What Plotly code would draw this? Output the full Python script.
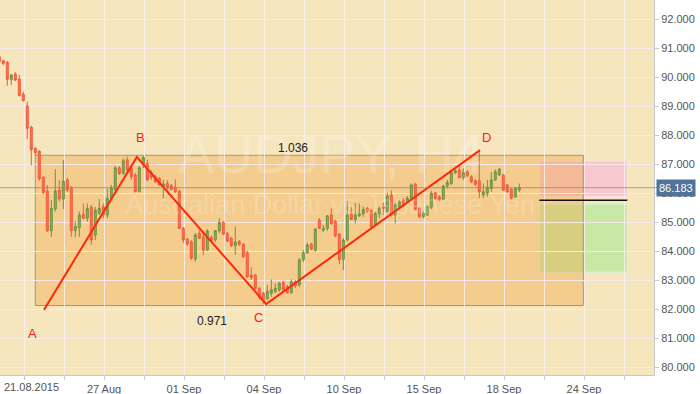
import plotly.graph_objects as go

# ---------------- data ----------------
candle_idx = list(range(-1, 130))
opens = [90.70, 90.56, 90.51, 89.91, 90.10, 89.93, 89.41, 89.00, 88.27, 87.54, 87.44, 86.54, 86.07, 84.70,
         85.45, 86.10, 85.79, 86.45, 86.16, 84.70, 84.80, 85.27, 85.13, 85.51, 84.55, 85.30, 85.53, 85.24,
         85.82, 86.10, 86.87, 86.68, 87.14, 86.87, 86.62, 86.04, 86.97, 87.02, 86.71, 86.56, 86.51, 86.22,
         86.33, 86.25, 86.18, 86.07, 84.78, 84.41, 84.32, 83.72, 84.61, 84.49, 84.03, 84.47, 84.38, 84.69,
         84.99, 84.61, 84.44, 84.18, 84.33, 84.23, 83.94, 83.17, 83.17, 82.71, 82.54, 82.36, 82.54, 82.60,
         82.66, 82.92, 82.77, 82.56, 82.94, 82.83, 83.69, 83.94, 84.23, 84.03, 85.07, 84.72, 84.78, 85.24,
         85.03, 84.59, 83.71, 84.38, 85.28, 85.09, 85.21, 85.28, 85.47, 85.39, 84.90, 85.28, 85.53, 85.36,
         85.93, 85.24, 85.53, 85.76, 85.70, 85.82, 86.31, 85.47, 85.18, 85.24, 85.51, 86.01, 85.87, 85.78,
         86.24, 86.33, 86.70, 86.79, 86.53, 86.73, 86.56, 86.42, 86.42, 85.93, 85.99, 86.16, 86.45, 86.62,
         86.62, 86.28, 86.13, 85.86, 86.10]
highs = [90.76, 90.60, 90.55, 90.09, 90.17, 90.07, 89.49, 89.15, 88.32, 87.59, 87.48, 86.59, 86.28, 85.76,
         86.82, 86.45, 87.14, 86.52, 86.24, 85.03, 85.36, 85.64, 85.64, 85.59, 85.52, 85.79, 85.64, 86.14,
         86.28, 86.93, 86.93, 87.20, 87.25, 86.97, 86.69, 86.93, 87.28, 87.14, 86.79, 86.62, 86.55, 86.45,
         86.45, 86.31, 86.47, 86.10, 84.83, 84.45, 84.38, 84.62, 84.72, 84.62, 84.76, 84.55, 84.72, 85.13,
         85.03, 84.66, 84.48, 84.84, 84.38, 84.28, 84.00, 83.44, 83.21, 82.76, 82.59, 82.83, 83.02, 82.89,
         82.93, 82.97, 82.83, 83.02, 83.00, 83.76, 84.03, 84.28, 84.28, 84.79, 85.14, 84.90, 85.24, 85.48,
         85.07, 84.62, 84.45, 85.73, 85.53, 85.67, 85.64, 85.53, 85.52, 85.45, 85.35, 85.53, 85.67, 86.01,
         86.10, 85.66, 85.76, 85.83, 85.90, 86.33, 86.34, 85.52, 85.36, 85.59, 86.08, 86.04, 85.93, 86.28,
         86.45, 86.77, 86.83, 86.93, 86.85, 86.79, 86.62, 86.48, 87.48, 86.33, 86.45, 86.73, 86.82, 86.86,
         86.66, 86.31, 86.17, 86.21, 86.33]
lows = [90.52, 90.40, 89.70, 89.72, 89.86, 89.33, 89.16, 87.86, 86.96, 87.28, 86.42, 85.96, 84.66, 84.49,
        85.36, 85.70, 85.45, 86.03, 84.49, 84.48, 84.49, 85.10, 85.01, 84.21, 84.38, 85.24, 85.13, 85.14,
        85.76, 86.03, 86.62, 86.62, 86.72, 86.45, 86.03, 86.03, 86.86, 86.41, 86.45, 86.34, 86.24, 85.82,
        86.10, 86.10, 86.00, 84.76, 84.28, 84.17, 83.69, 83.63, 84.41, 83.86, 84.00, 84.31, 84.32, 84.61,
        84.55, 84.31, 84.14, 83.86, 84.17, 83.76, 83.07, 83.00, 82.66, 82.31, 82.17, 82.31, 82.42, 82.55,
        82.60, 82.62, 82.52, 82.52, 82.72, 82.76, 83.62, 83.90, 84.03, 83.97, 84.76, 84.66, 84.70, 84.90,
        84.47, 83.55, 83.34, 84.34, 85.07, 84.95, 85.18, 85.18, 85.31, 84.79, 84.86, 85.13, 85.24, 85.31,
        85.18, 84.95, 85.48, 85.52, 85.66, 85.76, 85.41, 85.14, 85.13, 85.21, 85.44, 85.76, 85.72, 85.76,
        86.16, 86.28, 86.66, 86.51, 86.45, 86.55, 86.34, 86.24, 85.82, 85.82, 85.87, 86.04, 86.41, 86.59,
        86.07, 86.00, 85.76, 85.84, 86.04]
closes = [90.53, 90.47, 89.92, 90.07, 89.89, 89.36, 89.18, 88.23, 87.49, 87.39, 86.49, 86.02, 84.70, 85.47,
          86.07, 85.79, 86.41, 86.10, 84.70, 84.85, 85.24, 85.13, 85.47, 84.38, 85.41, 85.47, 85.24, 85.82,
          86.18, 86.87, 86.67, 87.11, 86.79, 86.56, 86.04, 86.87, 87.23, 86.45, 86.54, 86.39, 86.28, 86.31,
          86.18, 86.13, 86.04, 84.78, 84.38, 84.24, 83.75, 84.55, 84.44, 84.03, 84.69, 84.35, 84.70, 84.98,
          84.58, 84.34, 84.18, 84.31, 84.23, 83.80, 83.11, 83.09, 82.71, 82.42, 82.28, 82.60, 82.66, 82.71,
          82.89, 82.66, 82.56, 82.94, 82.79, 83.69, 83.94, 84.21, 84.07, 84.75, 84.78, 84.78, 85.21, 84.95,
          84.52, 83.71, 84.38, 85.24, 85.09, 85.24, 85.28, 85.44, 85.36, 84.84, 85.30, 85.47, 85.47, 85.90,
          85.24, 85.59, 85.70, 85.59, 85.82, 86.28, 85.44, 85.18, 85.30, 85.53, 85.99, 85.82, 85.78, 86.24,
          86.36, 86.70, 86.77, 86.53, 86.70, 86.59, 86.39, 86.30, 86.04, 86.04, 86.20, 86.45, 86.73, 86.82,
          86.10, 86.04, 85.82, 86.16, 86.183]

last_price = 86.183

tick_pos = [5.175 + 10 * j for j in range(16)]
tick_text = ["", "", "27 Aug", "", "01 Sep", "", "04 Sep", "", "10 Sep", "",
             "15 Sep", "", "18 Sep", "", "24 Sep", ""]
first_tick_label = "21.08.2015"   # drawn separately, nudged right so it fits
price_ticks = [80, 81, 82, 83, 84, 85, 86, 87, 88, 89, 90, 91, 92]

# pattern points A, B, C, D
pat_x = [10.175, 33.4, 65.7, 119.2]
pat_y = [81.97, 87.24, 82.17, 87.48]
pat_labels = ["A", "B", "C", "D"]
pat_label_x = [7.4, 34.4, 63.7, 120.7]
pat_label_y = [81.17, 87.93, 81.72, 87.90]

ratio_text = ["1.036", "0.971"]
ratio_x = [72.4, 52.2]
ratio_y = [87.55, 81.59]

# watermark
wm_text = ["AUDJPY, H4", "Australian Dollar vs Japanese Yen"]
wm_x = [81.9, 81.7]
wm_y = [87.14, 85.52]
wm_size = [54, 27]

# zones
zone_x = [8.0, 145.0]
zone_y = [82.12, 87.30]
pink_x = [134.0, 156.0]
pink_y = [85.87, 87.10]
green_x = [134.0, 156.0]
green_y = [83.27, 85.62]
entry_y = 85.75

x_range = [-0.825, 162.675]
y_range = [79.724, 92.655]

FONT = "Liberation Sans, Arial, sans-serif"

fig = go.Figure()

# watermark drawn first so that it sits beneath the candles
for t, xx, yy, sz in zip(wm_text, wm_x, wm_y, wm_size):
    fig.add_trace(go.Scatter(
        x=[xx], y=[yy], mode="text", text=[t],
        textfont=dict(family=FONT, size=sz, color="rgba(255,255,255,0.2)"),
        showlegend=False, hoverinfo="skip",
    ))

fig.add_trace(go.Candlestick(
    x=candle_idx, open=opens, high=highs, low=lows, close=closes,
    increasing=dict(line=dict(color="#6E9140", width=1), fillcolor="#8EB055"),
    decreasing=dict(line=dict(color="#F05A3C", width=1), fillcolor="#FF7258"),
    whiskerwidth=0, showlegend=False, hoverinfo="skip",
))

fig.add_trace(go.Scatter(
    x=pat_x, y=pat_y, mode="lines",
    line=dict(color="#FF2A0A", width=2), showlegend=False, hoverinfo="skip",
))

shapes = []
shapes.append(dict(type="rect", xref="x", yref="y", x0=pink_x[0], x1=pink_x[1], y0=pink_y[0], y1=pink_y[1],
                   fillcolor="rgba(250,170,220,0.5)", line=dict(color="rgba(255,225,240,0.9)", width=1),
                   layer="below"))
shapes.append(dict(type="rect", xref="x", yref="y", x0=green_x[0], x1=green_x[1], y0=green_y[0], y1=green_y[1],
                   fillcolor="rgba(170,235,150,0.6)", line=dict(color="rgba(210,245,230,0.9)", width=1),
                   layer="below"))
shapes.append(dict(type="rect", xref="x", yref="y", x0=zone_x[0], x1=zone_x[1], y0=zone_y[0], y1=zone_y[1],
                   fillcolor="rgba(240,165,70,0.4)", line=dict(color="#A39484", width=1),
                   layer="below"))
shapes.append(dict(type="line", xref="x", yref="y", x0=pink_x[0], x1=pink_x[1], y0=entry_y, y1=entry_y,
                   line=dict(color="#111111", width=1.5)))
shapes.append(dict(type="line", xref="paper", yref="y", x0=0, x1=1.005, y0=last_price, y1=last_price,
                   line=dict(color="rgba(140,130,120,0.7)", width=1)))

annotations = []
for t, xx, yy in zip(pat_labels, pat_label_x, pat_label_y):
    annotations.append(dict(x=xx, y=yy, text=t, showarrow=False,
                            font=dict(family=FONT, size=13, color="#FF1A1A")))
for t, xx, yy in zip(ratio_text, ratio_x, ratio_y):
    annotations.append(dict(x=xx, y=yy, text=t, showarrow=False,
                            font=dict(family=FONT, size=12, color="#222222")))
annotations.append(dict(xref="paper", yref="y", x=1, y=last_price, xanchor="left", xshift=2,
                        text=f"{last_price:.3f}", showarrow=False, bgcolor="#4F739B", borderpad=2,
                        font=dict(family=FONT, size=11, color="#FFFFFF")))
annotations.append(dict(xref="paper", yref="paper", x=0.003, y=0, xanchor="left", yanchor="top", yshift=-4,
                        text=first_tick_label, showarrow=False,
                        font=dict(family=FONT, size=11, color="#555555")))

fig.update_layout(
    width=700, height=394,
    margin=dict(l=0, r=46, t=0, b=19),
    paper_bgcolor="#FFFFFF",
    plot_bgcolor="#F5E6BE",
    shapes=shapes,
    annotations=annotations,
    font=dict(family=FONT, size=11, color="#555555"),
    xaxis=dict(range=x_range, tickmode="array", tickvals=tick_pos, ticktext=tick_text,
               showgrid=True, gridcolor="rgba(250,240,240,0.85)", gridwidth=1,
               showline=True, linecolor="#C8C8C8", ticks="outside", ticklen=4, tickcolor="#C8C8C8",
               rangeslider=dict(visible=False), zeroline=False, fixedrange=True, automargin=False,
               tickfont=dict(family=FONT, size=11, color="#555555")),
    yaxis=dict(range=y_range, side="right", tickmode="array", tickvals=price_ticks,
               ticktext=[f"{v:.3f}" for v in price_ticks],
               showgrid=True, gridcolor="rgba(250,235,240,0.9)", gridwidth=1,
               showline=True, linecolor="#C8C8C8", ticks="outside", ticklen=4, tickcolor="#C8C8C8",
               zeroline=False, fixedrange=True, automargin=False,
               tickfont=dict(family=FONT, size=11, color="#555555")),
)

fig.write_html("out.html")
